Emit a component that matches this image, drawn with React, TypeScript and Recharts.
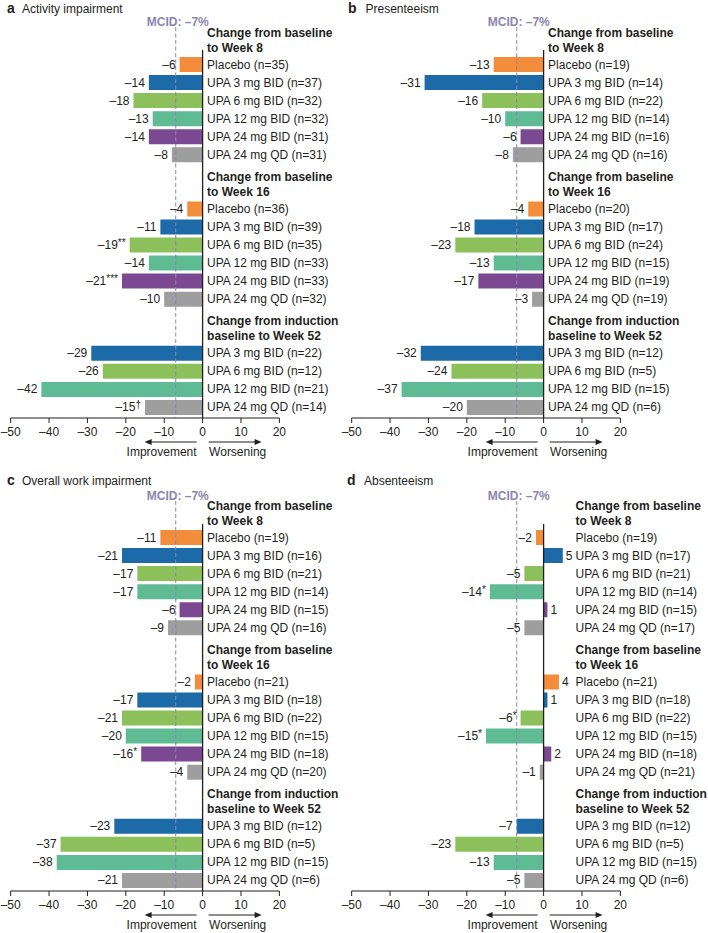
import React from 'react';
import { BarChart, Bar, XAxis, YAxis, Cell, LabelList, ReferenceLine } from 'recharts';

const FONT = '"Liberation Sans", Arial, Helvetica, sans-serif';
const INK = '#231f20';
const MCID_COLOR = '#8b86ae';

const armsShort = ['Placebo', 'UPA 3 mg BID', 'UPA 6 mg BID', 'UPA 12 mg BID', 'UPA 24 mg BID', 'UPA 24 mg QD'];
const armsLong = ['UPA 3 mg BID', 'UPA 6 mg BID', 'UPA 12 mg BID', 'UPA 24 mg QD'];
const armColors: Record<string, string> = {
  'Placebo': '#f48d3b',
  'UPA 3 mg BID': '#1c6aa8',
  'UPA 6 mg BID': '#8cc05a',
  'UPA 12 mg BID': '#5fbb94',
  'UPA 24 mg BID': '#7a4992',
  'UPA 24 mg QD': '#9e9e9e',
};
const sectionTitles = [
  ['Change from baseline', 'to Week 8'],
  ['Change from baseline', 'to Week 16'],
  ['Change from induction', 'baseline to Week 52'],
];
const xTicks = [-50, -40, -30, -20, -10, 0, 10, 20];
const mcid = -7;

// a: activity impairment
const activityW8 = [-6, -14, -18, -13, -14, -8];
const activityW8N = [35, 37, 32, 32, 31, 31];
const activityW16 = [-4, -11, -19, -14, -21, -10];
const activityW16N = [36, 39, 35, 33, 33, 32];
const activityW16Notes = ['', '', '**', '', '***', ''];
const activityW52 = [-29, -26, -42, -15];
const activityW52N = [22, 12, 21, 14];
const activityW52Notes = ['', '', '', '†'];

// b: presenteeism
const presentW8 = [-13, -31, -16, -10, -6, -8];
const presentW8N = [19, 14, 22, 14, 16, 16];
const presentW16 = [-4, -18, -23, -13, -17, -3];
const presentW16N = [20, 17, 24, 15, 19, 19];
const presentW52 = [-32, -24, -37, -20];
const presentW52N = [12, 5, 15, 6];

// c: overall work impairment
const workW8 = [-11, -21, -17, -17, -6, -9];
const workW8N = [19, 16, 21, 14, 15, 16];
const workW16 = [-2, -17, -21, -20, -16, -4];
const workW16N = [21, 18, 22, 15, 18, 20];
const workW16Notes = ['', '', '', '', '*', ''];
const workW52 = [-23, -37, -38, -21];
const workW52N = [12, 5, 15, 6];

// d: absenteeism
const absentW8 = [-2, 5, -5, -14, 1, -5];
const absentW8N = [19, 17, 21, 14, 15, 17];
const absentW8Notes = ['', '', '', '*', '', ''];
const absentW16 = [4, 1, -6, -15, 2, -1];
const absentW16N = [21, 18, 22, 15, 18, 21];
const absentW16Notes = ['', '', '*', '*', '', ''];
const absentW52 = [-7, -23, -13, -5];
const absentW52N = [12, 5, 15, 6];

type Row = {
  key: string;
  name: string;
  value: number | null;
  color: string;
  note: string;
  header?: string[];
};

type Section = { values: number[]; n: number[]; notes?: string[] };

function buildRows(sections: Section[]): Row[] {
  const rows: Row[] = [];
  sections.forEach((s, si) => {
    if (si > 0) {
      for (let k = 0; k < 2; k++) {
        rows.push({ key: `gap-${si}-${k}`, name: '', value: null, color: '#fff', note: '' });
      }
    }
    const arms = si < 2 ? armsShort : armsLong;
    s.values.forEach((v, i) => {
      rows.push({
        key: `s${si}-${i}`,
        name: `${arms[i]} (n=${s.n[i]})`,
        value: v,
        color: armColors[arms[i]],
        note: s.notes ? s.notes[i] : '',
        header: i === 0 ? sectionTitles[si] : undefined,
      });
    });
  });
  return rows;
}

const fmt = (v: number) => (v < 0 ? `–${Math.abs(v)}` : `${v}`);

const mcidShape = (p: any) => {
  const top = Math.min(p.y1, p.y2);
  const bottom = Math.max(p.y1, p.y2);
  return (
    <g>
      <line x1={p.x1} x2={p.x1} y1={top - 23} y2={bottom} stroke={MCID_COLOR} strokeWidth={1} strokeDasharray="4 2.5" />
      <text x={p.x1 + 2} y={top - 24} textAnchor="middle" fontSize={12} fontWeight="bold" fill={MCID_COLOR} fontFamily={FONT}>
        MCID: –7%
      </text>
    </g>
  );
};

const zeroShape = (p: any) => {
  const top = Math.min(p.y1, p.y2);
  const bottom = Math.max(p.y1, p.y2);
  const x = p.x1;
  const ay = bottom + 24;
  return (
    <g>
      <line x1={x} x2={x} y1={top} y2={bottom} stroke={INK} strokeWidth={1.3} />
      <line x1={x - 6} x2={x - 52} y1={ay} y2={ay} stroke={INK} strokeWidth={1} />
      <polygon points={`${x - 58},${ay} ${x - 51},${ay - 3} ${x - 51},${ay + 3}`} fill={INK} />
      <line x1={x + 6} x2={x + 53} y1={ay} y2={ay} stroke={INK} strokeWidth={1} />
      <polygon points={`${x + 59},${ay} ${x + 52},${ay - 3} ${x + 52},${ay + 3}`} fill={INK} />
      <text x={x - 6} y={bottom + 38} textAnchor="end" fontSize={12} fill={INK} fontFamily={FONT}>Improvement</text>
      <text x={x + 6.5} y={bottom + 38} textAnchor="start" fontSize={12} fill={INK} fontFamily={FONT}>Worsening</text>
    </g>
  );
};

type PanelProps = {
  rows: Row[];
  left: number;
  top: number;
  width: number;
  marginTop: number;
  padTop: number;
  nameGap: number;
};

function Panel({ rows, left, top, width, marginTop, padTop, nameGap }: PanelProps) {
  const byKey: Record<string, Row> = {};
  rows.forEach(r => { byKey[r.key] = r; });

  const geom = (props: any) => {
    const vb = props.viewBox || props;
    const a = Math.min(vb.x, vb.x + vb.width);
    const b = Math.max(vb.x, vb.x + vb.width);
    return { a, b, cy: vb.y + vb.height / 2 };
  };

  const renderValue = (props: any) => {
    const row = byKey[props.value];
    if (!row || row.value == null) return null;
    const { a, b, cy } = geom(props);
    const neg = row.value < 0;
    return (
      <text x={neg ? a - 4 : b + 3} y={cy} textAnchor={neg ? 'end' : 'start'} dominantBaseline="central"
        fontSize={12} fill={INK} fontFamily={FONT}>
        {fmt(row.value)}
        {row.note ? <tspan fontSize={10} dy={-3}>{row.note}</tspan> : null}
      </text>
    );
  };

  const renderName = (props: any) => {
    const row = byKey[props.value];
    if (!row || row.value == null) return null;
    const { a, b, cy } = geom(props);
    const zero = row.value < 0 ? b : a;
    const x = zero + nameGap;
    return (
      <g>
        {row.header && (
          <>
            <text x={x} y={cy - 32} dominantBaseline="central" fontSize={12} fontWeight="bold" fill={INK} fontFamily={FONT}>{row.header[0]}</text>
            <text x={x} y={cy - 17} dominantBaseline="central" fontSize={12} fontWeight="bold" fill={INK} fontFamily={FONT}>{row.header[1]}</text>
          </>
        )}
        <text x={x} y={cy} dominantBaseline="central" fontSize={12} fill={INK} fontFamily={FONT}>{row.name}</text>
      </g>
    );
  };

  const plotWidth = 268.7;
  return (
    <div style={{ position: 'absolute', left, top }}>
      <BarChart
        width={width}
        height={470}
        data={rows}
        layout="vertical"
        margin={{ top: marginTop, right: width - 10.67 - plotWidth, bottom: 22, left: 10.67 }}
      >
        <XAxis
          type="number"
          domain={[-50, 20]}
          ticks={xTicks}
          interval={0}
          allowDataOverflow
          tickFormatter={fmt}
          stroke={INK}
          tick={{ fill: INK, fontSize: 12, fontFamily: FONT }}
          tickSize={5}
          tickMargin={4}
          height={30}
        />
        <YAxis type="category" dataKey="key" hide padding={{ top: padTop, bottom: 2 }} />
        <Bar dataKey="value" barSize={15} isAnimationActive={false}>
          {rows.map(r => <Cell key={r.key} fill={r.color} />)}
          <LabelList dataKey="key" content={renderValue} />
          <LabelList dataKey="key" content={renderName} />
        </Bar>
        <ReferenceLine x={mcid} shape={mcidShape} />
        <ReferenceLine x={0} shape={zeroShape} />
      </BarChart>
    </div>
  );
}

const activityRows = buildRows([
  { values: activityW8, n: activityW8N },
  { values: activityW16, n: activityW16N, notes: activityW16Notes },
  { values: activityW52, n: activityW52N, notes: activityW52Notes },
]);
const presentRows = buildRows([
  { values: presentW8, n: presentW8N },
  { values: presentW16, n: presentW16N },
  { values: presentW52, n: presentW52N },
]);
const workRows = buildRows([
  { values: workW8, n: workW8N },
  { values: workW16, n: workW16N, notes: workW16Notes },
  { values: workW52, n: workW52N },
]);
const absentRows = buildRows([
  { values: absentW8, n: absentW8N, notes: absentW8Notes },
  { values: absentW16, n: absentW16N, notes: absentW16Notes },
  { values: absentW52, n: absentW52N },
]);

const titles = [
  { letter: 'a', text: 'Activity impairment', lx: 7, tx: 22, y: 13 },
  { letter: 'b', text: 'Presenteeism', lx: 348, tx: 365.5, y: 13 },
  { letter: 'c', text: 'Overall work impairment', lx: 7, tx: 22, y: 485 },
  { letter: 'd', text: 'Absenteeism', lx: 347, tx: 364, y: 485 },
];

export default function App() {
  return (
    <div style={{ position: 'absolute', left: 0, top: 0, width: 708, height: 933, background: '#fff', fontFamily: FONT }}>
      <Panel rows={activityRows} left={0} top={0} width={354} marginTop={50} padTop={5} nameGap={4.5} />
      <Panel rows={presentRows} left={341} top={0} width={367} marginTop={50} padTop={5} nameGap={4.5} />
      <Panel rows={workRows} left={0} top={473} width={354} marginTop={51} padTop={4} nameGap={4.5} />
      <Panel rows={absentRows} left={341} top={473} width={367} marginTop={51} padTop={4} nameGap={32} />
      <svg width={708} height={933} style={{ position: 'absolute', left: 0, top: 0, pointerEvents: 'none' }}>
        {titles.map(t => (
          <g key={t.letter}>
            <text x={t.lx} y={t.y} fontSize={14} fontWeight="bold" fill={INK} fontFamily={FONT}>{t.letter}</text>
            <text x={t.tx} y={t.y} fontSize={12} fill={INK} fontFamily={FONT}>{t.text}</text>
          </g>
        ))}
      </svg>
    </div>
  );
}
